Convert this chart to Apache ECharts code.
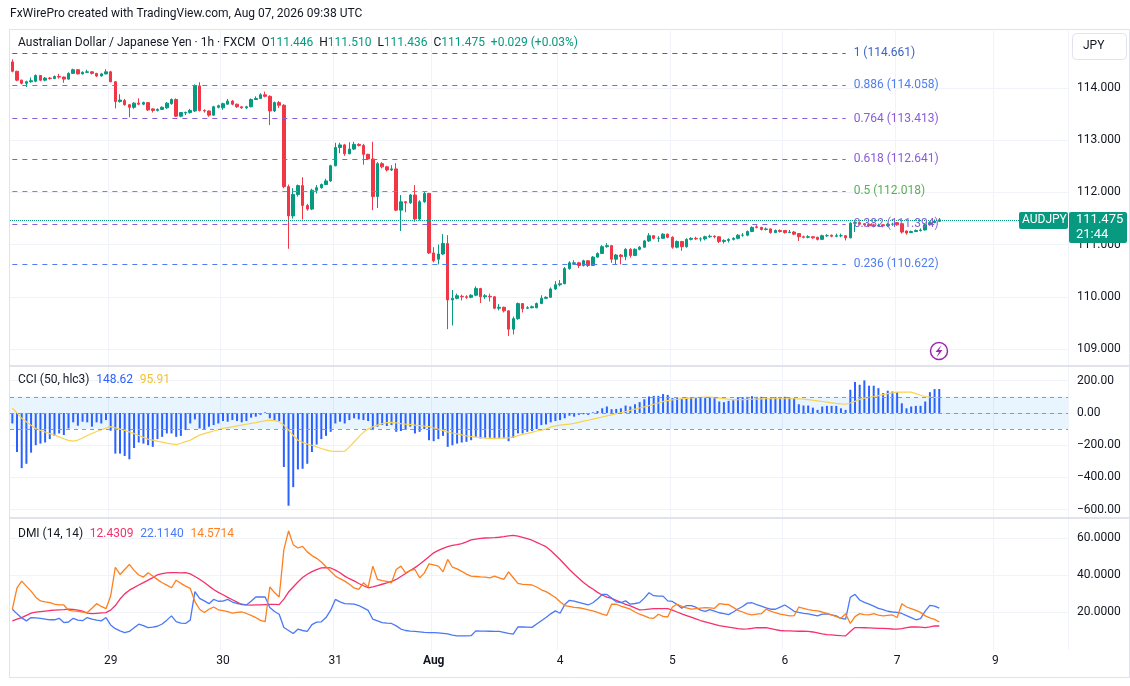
<!DOCTYPE html>
<html>
<head>
<meta charset="utf-8">
<title>AUDJPY 1h</title>
<script src="https://cdn.jsdelivr.net/npm/echarts@6.0.0/dist/echarts.min.js"></script>
<style>
  html, body { margin: 0; padding: 0; background: #fff; }
  #main { width: 1130px; height: 686px; }
</style>
</head>
<body>
<div id="main"></div>
<script>
// hourly candles, [open, close, low, high]
var jul28 = [
  [114.50,114.32,114.30,114.55],[114.32,114.15,114.13,114.33],[114.15,114.09,114.07,114.16],[114.09,114.12,114.02,114.14],
  [114.12,114.14,114.10,114.20],[114.13,114.24,114.11,114.26],[114.24,114.15,114.13,114.25],[114.15,114.19,114.13,114.21],
  [114.19,114.18,114.16,114.21],[114.18,114.22,114.17,114.24],[114.22,114.21,114.18,114.27],[114.21,114.17,114.10,114.22],
  [114.17,114.28,114.16,114.30],[114.28,114.35,114.27,114.37],[114.35,114.27,114.26,114.36],[114.27,114.30,114.26,114.32],
  [114.30,114.31,114.29,114.35],[114.31,114.28,114.26,114.32],[114.28,114.23,114.21,114.29],[114.23,114.27,114.22,114.29],
  [114.27,114.31,114.26,114.36]
];
var jul29 = [
  [114.31,114.12,114.11,114.33],[114.12,113.74,113.61,114.13],[113.74,113.77,113.72,113.88],[113.76,113.68,113.66,113.79],
  [113.68,113.63,113.44,113.69],[113.63,113.71,113.60,113.73],[113.71,113.69,113.67,113.80],[113.69,113.72,113.67,113.74],
  [113.72,113.58,113.56,113.73],[113.60,113.57,113.53,113.61],[113.57,113.59,113.55,113.61],[113.59,113.63,113.58,113.65],
  [113.62,113.71,113.60,113.73],[113.70,113.78,113.68,113.80],[113.78,113.46,113.45,113.80],[113.46,113.53,113.44,113.54],
  [113.52,113.53,113.48,113.55],[113.53,113.57,113.51,113.60],[113.56,114.04,113.54,114.07],[114.04,113.57,113.55,114.11],
  [113.57,113.56,113.53,113.59],[113.56,113.48,113.45,113.57],[113.48,113.64,113.47,113.66],[113.63,113.66,113.61,113.68]
];
var jul30 = [
  [113.62,113.70,113.58,113.72],[113.69,113.75,113.68,113.79],[113.75,113.69,113.67,113.77],[113.69,113.64,113.62,113.70],
  [113.64,113.62,113.60,113.65],[113.62,113.64,113.60,113.66],[113.64,113.78,113.63,113.80],[113.78,113.80,113.77,113.84],
  [113.80,113.87,113.79,113.90],[113.87,113.84,113.82,113.93],[113.84,113.56,113.29,113.86],[113.56,113.72,113.54,113.74],
  [113.72,113.67,113.62,113.75],[113.67,112.11,112.08,113.69],[112.11,111.55,110.92,112.15],[111.55,111.96,111.50,112.08],
  [111.96,112.13,111.92,112.15],[112.13,111.75,111.48,112.29],[111.75,111.68,111.65,111.78],[111.68,112.04,111.66,112.07],
  [112.04,112.09,111.98,112.14],[112.09,112.15,112.07,112.17],[112.15,112.22,112.14,112.26],[112.22,112.51,112.20,112.53]
];
var jul31 = [
  [112.51,112.86,112.50,112.95],[112.86,112.91,112.75,112.95],[112.91,112.74,112.70,112.93],[112.74,112.83,112.73,112.96],
  [112.83,112.92,112.81,112.97],[112.92,112.90,112.88,112.94],[112.90,112.73,112.53,112.93],[112.73,112.64,112.62,112.74],
  [112.64,111.92,111.66,112.97],[111.92,112.55,111.70,112.58],[112.55,112.49,112.46,112.58],[112.49,112.43,112.40,112.51],
  [112.43,112.45,112.41,112.52],[112.45,111.66,111.64,112.56],[111.66,111.82,111.26,111.95],[111.82,111.80,111.62,111.83],
  [111.80,111.95,111.78,111.97],[111.95,111.49,111.44,112.14],[111.49,111.82,111.46,111.85],[111.82,111.98,111.80,112.02],
  [111.98,110.84,110.82,111.99]
];
var aug2 = [
  [110.84,110.69,110.66,110.95],[110.72,110.82,110.62,111.00],[110.82,111.02,110.80,111.20]
];
var aug3 = [
  [111.02,109.94,109.38,111.18],[109.94,109.97,109.45,110.13],[109.97,110.02,109.95,110.06],[110.01,110.00,109.93,110.04],
  [110.00,109.99,109.96,110.03],[109.99,110.03,109.97,110.05],[110.03,110.16,110.01,110.20],[110.16,110.00,109.88,110.17],
  [110.00,110.02,109.96,110.05],[110.01,110.00,109.91,110.06],[110.00,109.78,109.76,110.01],[109.78,109.80,109.74,109.86],
  [109.80,109.73,109.70,109.81],[109.73,109.38,109.25,109.74],[109.38,109.58,109.28,109.62],[109.58,109.87,109.56,109.89],
  [109.87,109.77,109.70,109.88],[109.78,109.79,109.77,109.82],[109.79,109.81,109.78,109.83],[109.79,109.87,109.78,109.89],
  [109.87,109.97,109.86,110.03],[109.97,109.99,109.96,110.01],[109.99,110.15,109.98,110.18],[110.15,110.23,110.13,110.30]
];
var aug4 = [
  [110.23,110.25,110.20,110.32],[110.25,110.54,110.24,110.57],[110.54,110.65,110.52,110.68],[110.64,110.65,110.62,110.70],
  [110.65,110.60,110.55,110.67],[110.60,110.69,110.58,110.71],[110.69,110.60,110.57,110.70],[110.60,110.76,110.59,110.78],
  [110.76,110.83,110.75,110.85],[110.83,110.96,110.82,110.99],[110.96,110.98,110.94,111.03],[110.98,110.72,110.65,110.99],
  [110.72,110.80,110.62,110.82],[110.80,110.77,110.62,110.82],[110.77,110.91,110.70,110.93],[110.91,110.79,110.75,110.93],
  [110.79,110.91,110.78,110.93],[110.91,110.95,110.89,110.97],[110.95,111.07,110.94,111.09],[111.07,111.17,111.05,111.22],
  [111.17,111.12,111.10,111.18],[111.12,111.12,111.05,111.16],[111.12,111.20,111.11,111.22],[111.20,111.14,111.12,111.21]
];
var aug5 = [
  [111.14,110.95,110.92,111.16],[110.95,111.06,110.93,111.08],[111.06,110.96,110.88,111.07],[110.96,111.10,110.94,111.12],
  [111.10,111.12,111.08,111.14],[111.12,111.11,111.09,111.15],[111.11,111.11,111.06,111.14],[111.11,111.15,111.08,111.17],
  [111.15,111.16,111.13,111.19],[111.16,111.15,111.12,111.18],[111.15,111.06,111.03,111.16],[111.06,111.08,111.02,111.10],
  [111.08,111.10,111.04,111.12],[111.10,111.12,111.08,111.14],[111.12,111.18,111.10,111.20],[111.18,111.18,111.15,111.22],
  [111.18,111.25,111.16,111.27],[111.25,111.33,111.24,111.35],[111.34,111.33,111.31,111.37],[111.33,111.29,111.27,111.34],
  [111.29,111.30,111.27,111.33],[111.30,111.23,111.21,111.31],[111.23,111.27,111.22,111.29],[111.27,111.25,111.23,111.29]
];
var aug6 = [
  [111.27,111.23,111.21,111.28],[111.23,111.24,111.22,111.28],[111.24,111.20,111.18,111.26],[111.21,111.15,111.07,111.22],
  [111.15,111.14,111.12,111.17],[111.14,111.15,111.12,111.18],[111.15,111.13,111.11,111.16],[111.14,111.10,111.08,111.15],
  [111.10,111.17,111.09,111.19],[111.17,111.17,111.15,111.20],[111.18,111.16,111.14,111.19],[111.16,111.17,111.14,111.21],
  [111.17,111.17,111.14,111.21],[111.17,111.13,111.08,111.18],[111.13,111.41,111.12,111.43],[111.41,111.42,111.24,111.45],
  [111.42,111.39,111.37,111.43],[111.40,111.38,111.35,111.41],[111.39,111.36,111.34,111.40],[111.38,111.36,111.33,111.40],
  [111.36,111.37,111.34,111.40],[111.38,111.36,111.33,111.39],[111.36,111.39,111.34,111.41],[111.39,111.39,111.36,111.42]
];
var aug7 = [
  [111.42,111.38,111.36,111.43],[111.40,111.24,111.21,111.41],[111.26,111.22,111.19,111.27],[111.23,111.25,111.22,111.27],
  [111.25,111.27,111.24,111.29],[111.27,111.28,111.25,111.31],[111.28,111.38,111.27,111.40],[111.38,111.42,111.36,111.45],
  [111.42,111.45,111.41,111.48],[111.446,111.475,111.436,111.510]
];

// CCI (50, hlc3) and its yellow average
var cciValues = [
  -65,-242,-342,-315,-246,-200,-190,-183,-162,-142,-127,-137,-96,-58,-79,-54,-58,-85,-58,-65,-44,
  -110,-252,-252,-267,-287,-217,-183,-190,-200,-210,-162,-148,-127,-127,-148,-142,-106,-65,-40,-96,-100,-85,-75,-65,
  -50,-54,-44,-50,-58,-50,-29,-23,-12,4,-33,-44,-50,-335,-575,-460,-350,-346,-315,-242,-196,-162,-142,-117,
  -65,-54,-65,-44,-33,-40,-44,-50,-106,-85,-75,-81,-75,-117,-112,-106,-85,-127,-117,-100,-169,
  -175,-162,-142,
  -210,-200,-190,-183,-179,-169,-148,-158,-154,-154,-162,-158,-158,-175,-154,-127,-127,-117,-112,-100,-75,-71,-58,-50,
  -44,-33,-17,-23,-12,-8,-12,4,12,29,40,23,25,29,46,40,54,67,85,102,106,106,117,112,
  92,98,88,96,98,94,94,96,98,92,71,67,75,83,98,98,100,104,100,100,98,92,98,96,
  100,96,92,54,46,46,33,19,40,44,44,44,29,19,144,192,175,202,169,169,154,123,138,133,
  129,60,29,40,44,44,71,129,148,148.62
];
var cciSignal = [
  29,0,-33,-55,-76,-96,-108,-118,-128,-137,-148,-160,-170,-175,-168,-155,-140,-127,-115,-104,-94,
  -85,-92,-100,-108,-117,-128,-140,-151,-162,-168,-175,-181,-187,-192,-196,-188,-178,-169,-153,-137,-128,-120,-112,-104,
  -96,-91,-86,-80,-75,-70,-65,-60,-54,-49,-44,-48,-54,-75,-106,-140,-169,-182,-193,-200,-210,-220,-229,-237,
  -238,-238,-237,-210,-180,-148,-120,-100,-85,-75,-66,-60,-58,-62,-66,-69,-71,-75,-78,-82,-85,
  -93,-101,-109,
  -117,-124,-130,-136,-142,-146,-150,-153,-156,-158,-157,-156,-155,-154,-148,-140,-133,-127,-120,-112,-106,-100,-88,-80,
  -75,-72,-69,-65,-58,-51,-45,-38,-32,-25,-18,-12,-5,2,9,16,24,31,38,46,54,62,70,77,
  81,85,88,91,93,95,97,98,98,95,92,89,85,81,82,83,84,85,86,87,88,88,88,88,
  88,88,88,87,86,83,79,75,71,67,63,59,56,54,62,72,84,92,97,102,108,114,120,125,
  129,129,129,129,120,110,102,98,96,95.91
];

// DMI (14, 14)
var adx = [
  15.2,16.2,17.0,18.2,19.4,19.9,20.2,20.5,20.8,21.0,21.2,21.3,21.5,21.4,21.0,20.5,19.4,19.1,19.3,19.5,19.7,
  21.0,23.5,27.0,29.8,31.8,33.2,34.6,35.9,37.2,38.6,40.1,40.8,41.2,41.3,41.3,41.2,41.3,40.6,39.2,37.7,35.9,34.0,32.2,30.6,
  29.3,27.9,26.6,25.3,24.0,23.8,23.7,23.8,23.9,24.0,24.1,24.1,24.0,27.0,30.8,33.5,36.2,38.6,40.4,41.8,42.9,43.8,44.0,43.8,
  42.6,41.2,39.4,38.0,36.8,35.4,34.2,33.1,33.6,34.3,35.0,35.7,36.5,37.6,39.2,40.8,42.4,44.0,45.8,47.8,49.9,
  52.0,53.3,54.4,
  55.3,56.0,56.4,57.0,57.9,59.0,59.4,59.8,60.0,60.1,60.2,60.4,60.7,61.1,61.4,61.0,60.3,59.6,58.8,57.6,56.5,55.3,53.2,50.8,
  48.4,45.7,43.0,40.5,38.2,36.0,34.0,32.4,30.6,29.2,28.0,27.4,26.3,25.2,24.1,23.3,22.2,21.2,21.3,21.6,21.8,21.8,21.8,21.8,
  21.0,20.0,19.0,18.1,17.2,16.3,15.4,14.7,14.0,13.3,12.6,12.2,11.8,11.4,11.0,10.7,10.9,11.2,11.5,11.6,11.5,11.0,10.5,10.0,
  9.8,9.8,9.7,9.6,9.6,9.5,9.2,8.7,8.2,7.8,7.6,7.4,7.2,7.1,9.5,11.6,11.6,11.5,11.4,11.3,11.2,11.1,11.0,10.8,
  10.7,11.0,11.5,11.9,12.0,11.8,11.6,12.0,12.5,12.4309
];
var plusDI = [
  21.5,19.0,16.8,15.2,17.0,16.8,16.6,16.2,15.8,15.8,16.6,14.3,14.6,16.6,15.6,15.3,17.0,16.2,15.6,15.2,17.0,
  13.0,11.0,9.8,8.8,9.5,11.5,13.4,12.6,11.6,11.8,12.3,13.5,15.6,17.9,14.8,14.0,13.8,15.6,31.0,27.4,26.0,24.5,26.8,25.8,
  25.9,26.8,25.4,24.6,24.2,23.8,25.8,28.1,28.1,28.1,22.4,20.3,18.8,11.6,10.0,8.4,10.7,10.0,9.5,13.2,14.5,14.7,17.0,21.0,
  26.8,25.5,24.5,24.4,24.3,23.5,22.2,20.9,16.1,15.2,14.3,14.0,13.8,12.5,10.8,10.0,9.7,9.5,9.3,9.0,8.9,
  8.8,8.7,8.5,
  8.2,7.5,7.1,7.1,7.1,7.2,9.8,9.7,9.7,9.6,9.5,9.5,9.0,8.4,8.0,12.0,11.9,11.8,11.7,13.5,15.3,17.0,19.0,20.6,
  19.3,24.0,26.3,25.9,25.2,24.5,23.8,25.0,27.0,29.5,29.5,27.5,25.5,25.1,26.0,24.2,24.6,25.1,27.5,30.4,28.8,28.6,28.6,26.0,
  25.7,24.0,22.0,23.5,23.5,22.6,21.0,20.3,21.3,20.5,19.6,19.1,18.6,20.0,21.6,23.0,24.8,25.0,24.0,23.2,22.2,21.5,21.5,22.6,
  23.8,22.2,20.4,19.8,19.3,19.0,18.5,17.9,18.8,19.0,18.4,17.9,16.5,16.1,28.0,29.5,26.5,25.2,24.3,23.2,22.0,21.3,20.4,20.0,
  19.8,19.2,18.0,17.0,15.8,16.4,20.5,23.6,23.2,22.114
];
var minusDI = [
  21.5,33.0,36.7,34.0,31.3,28.0,26.0,25.5,25.1,24.3,23.8,23.8,21.0,20.6,20.3,20.0,19.7,22.0,24.5,23.0,21.8,
  28.6,44.2,40.3,43.0,45.7,42.5,40.0,38.9,41.2,39.5,37.5,35.8,34.5,33.1,37.2,35.5,34.0,32.8,25.6,21.5,19.7,21.5,22.7,21.2,
  20.8,20.2,19.4,19.8,20.0,19.2,18.2,17.0,15.5,14.8,33.5,30.5,28.1,53.7,63.9,56.4,54.6,55.5,52.5,50.5,49.0,47.0,44.5,42.0,
  39.4,38.0,36.7,35.0,33.0,32.2,35.8,33.5,44.8,37.6,37.0,36.5,35.8,43.0,44.8,41.2,42.5,43.0,38.5,41.0,46.0,
  45.5,44.8,41.7,
  48.4,44.2,43.3,42.0,40.5,39.4,39.2,39.0,38.9,38.5,39.4,38.5,37.6,41.7,38.5,35.5,34.9,34.8,34.6,33.5,32.0,31.0,29.5,27.8,
  25.6,23.5,23.0,22.5,22.3,21.8,21.2,20.6,19.8,18.8,18.2,24.2,24.2,23.2,22.4,21.5,20.0,18.8,17.9,16.8,16.6,18.8,17.6,17.3,
  22.7,24.2,23.0,22.2,21.5,21.8,22.1,22.4,22.2,22.0,24.5,24.2,24.0,22.5,20.9,20.0,19.0,18.4,18.8,19.1,21.5,20.5,19.6,18.8,
  18.5,17.9,18.0,22.7,22.0,21.3,20.9,20.6,20.0,19.2,18.4,17.5,16.6,19.1,13.8,17.5,19.1,18.6,18.4,19.1,18.3,17.9,18.2,18.4,
  17.0,24.5,22.7,21.8,20.9,19.8,17.9,16.8,16.0,14.571
];

// time axis: bar slot index of each day label
var dayTickIndex = [21, 45, 69, 90, 117, 141, 165, 189, 210];
var dayTickText = ['29', '30', '31', 'Aug', '4', '5', '6', '7', '9'];
var priceTicks = [109, 110, 111, 112, 113, 114];
var cciTicks = [-600, -400, -200, 0, 200];
var dmiTicks = [20, 40, 60];
var fibRatio = ['1', '0.886', '0.764', '0.618', '0.5', '0.382', '0.236'];
var fibPrice = [114.661, 114.058, 113.413, 112.641, 112.018, 111.394, 110.622];
var lastPrice = 111.475;

window.onload = function () {
  'use strict';

  var FONT = 'Roboto, "Noto Sans", sans-serif';
  var UP = '#089981', DOWN = '#F23645';
  var fibColor = ['#3B62C4', '#4F7DF0', '#8A5CD6', '#8A5CD6', '#5AAF55', '#8A5CD6', '#4F7DF0'];

  var candles = jul28.concat(jul29, jul30, jul31, aug2, aug3, aug4, aug5, aug6, aug7);
  var slotCount = 226; // bars plus empty space on the right
  var slots = [];
  for (var i = 0; i < slotCount; i++) slots.push(String(i));

  var tickText = {};
  dayTickIndex.forEach(function (k, j) { tickText[k] = dayTickText[j]; });
  function isDay(idx) { return tickText[idx] !== undefined; }

  function makeX(gi, withLabels) {
    return {
      type: 'category', gridIndex: gi, data: slots, boundaryGap: true,
      axisLine: { show: false }, axisTick: { show: false },
      axisLabel: {
        show: withLabels, interval: function (idx) { return isDay(idx); },
        formatter: function (v, idx) {
          var t = tickText[idx];
          if (t === undefined) return '';
          return t === 'Aug' ? '{b|Aug}' : t;
        },
        color: '#131722', fontSize: 12, fontFamily: FONT, margin: 5,
        rich: { b: { fontWeight: 'bold', fontSize: 12, color: '#131722', fontFamily: FONT } }
      },
      splitLine: { show: true, interval: function (idx) { return isDay(idx); }, lineStyle: { color: '#F0F3FA' } }
    };
  }

  function makeY(gi, min, max, ticks, fmt) {
    return {
      type: 'value', gridIndex: gi, position: 'right', min: min, max: max,
      axisLine: { show: false },
      axisTick: { show: false, customValues: ticks },
      axisLabel: { customValues: ticks, formatter: fmt, color: '#131722', fontSize: 12, fontFamily: FONT, margin: 9 },
      splitLine: { show: true, lineStyle: { color: '#F0F3FA' } }
    };
  }

  function minus(s) { return s.replace('-', '\u2212'); }

  var fibLines = fibPrice.map(function (p, k) {
    return [
      {
        coord: [0, p],
        lineStyle: { color: fibColor[k], type: [5, 5], width: 1 },
        label: {
          show: true, position: 'end', distance: 8,
          formatter: fibRatio[k] + ' (' + p.toFixed(3) + ')',
          color: fibColor[k], fontSize: 12, fontFamily: FONT
        }
      },
      { coord: [178, p] }
    ];
  });
  fibLines.push({ yAxis: lastPrice, lineStyle: { color: UP, type: 'dotted', width: 1 }, label: { show: false } });

  var option = {
    animation: false,
    backgroundColor: '#ffffff',
    grid: [
      { left: 10, right: 62, top: 31, height: 334 },
      { left: 10, right: 62, top: 367, height: 150 },
      { left: 10, right: 62, top: 519, height: 131 }
    ],
    xAxis: [makeX(0, false), makeX(1, false), makeX(2, true)],
    yAxis: [
      makeY(0, 108.693, 115.092, priceTicks, function (v) { return v.toFixed(3); }),
      makeY(1, -645, 285, cciTicks, function (v) { return minus(v.toFixed(2)); }),
      makeY(2, -0.54, 70.27, dmiTicks, function (v) { return v.toFixed(4); })
    ],
    series: [
      {
        type: 'candlestick', xAxisIndex: 0, yAxisIndex: 0, data: candles, barWidth: 3,
        itemStyle: { color: UP, color0: DOWN, borderColor: UP, borderColor0: DOWN, borderWidth: 1 },
        markLine: { silent: true, symbol: ['none', 'none'], animation: false, data: fibLines }
      },
      {
        type: 'bar', xAxisIndex: 1, yAxisIndex: 1, data: cciValues, barWidth: 2,
        itemStyle: { color: '#2962FF' },
        markArea: {
          silent: true,
          itemStyle: { color: 'rgba(33,150,243,0.1)' },
          data: [[{ yAxis: 100 }, { yAxis: -100 }]]
        },
        markLine: {
          silent: true, symbol: ['none', 'none'], animation: false,
          label: { show: false },
          lineStyle: { color: '#9598A1', type: [4, 4], width: 1 },
          data: [{ yAxis: 100 }, { yAxis: 0 }, { yAxis: -100 }]
        }
      },
      {
        type: 'line', xAxisIndex: 1, yAxisIndex: 1, data: cciSignal, showSymbol: false,
        lineStyle: { color: '#F9D34F', width: 1.2 }
      },
      {
        type: 'line', xAxisIndex: 2, yAxisIndex: 2, data: adx, showSymbol: false,
        lineStyle: { color: '#F5306A', width: 1.3 }
      },
      {
        type: 'line', xAxisIndex: 2, yAxisIndex: 2, data: plusDI, showSymbol: false,
        lineStyle: { color: '#4A78F6', width: 1.3 }
      },
      {
        type: 'line', xAxisIndex: 2, yAxisIndex: 2, data: minusDI, showSymbol: false,
        lineStyle: { color: '#FF7F1E', width: 1.3 }
      }
    ],
    graphic: [
      {
        type: 'text', left: 10, top: 8, z: 100,
        style: { text: 'FxWirePro created with TradingView.com, Aug 07, 2026 09:38 UTC', fill: '#131722', font: '12px ' + FONT }
      },
      {
        type: 'rect', silent: true, z: -1,
        shape: { x: 9.5, y: 29.5, width: 1120, height: 648 },
        style: { fill: 'none', stroke: '#E0E3EB', lineWidth: 1 }
      },
      { type: 'line', silent: true, shape: { x1: 10, y1: 366, x2: 1130, y2: 366 }, style: { stroke: '#E0E3EB', lineWidth: 2 } },
      { type: 'line', silent: true, shape: { x1: 10, y1: 518, x2: 1130, y2: 518 }, style: { stroke: '#E0E3EB', lineWidth: 2 } },
      {
        type: 'text', left: 18, top: 37, z: 100,
        style: {
          text: '{t|Australian Dollar / Japanese Yen · 1h · FXCM}  {t|O}{v|111.446}  {t|H}{v|111.510}  {t|L}{v|111.436}  {t|C}{v|111.475}  {v|+0.029 (+0.03%)}',
          font: '12px ' + FONT,
          rich: {
            t: { fill: '#131722', font: '12px ' + FONT },
            v: { fill: UP, font: '12px ' + FONT }
          }
        }
      },
      {
        type: 'text', left: 18, top: 374, z: 100,
        style: {
          text: '{t|CCI (50, hlc3)}  {b|148.62}  {y|95.91}',
          rich: {
            t: { fill: '#131722', font: '12px ' + FONT },
            b: { fill: '#2962FF', font: '12px ' + FONT },
            y: { fill: '#F2C230', font: '12px ' + FONT }
          }
        }
      },
      {
        type: 'text', left: 18, top: 528, z: 100,
        style: {
          text: '{t|DMI (14, 14)}  {r|12.4309}  {b|22.1140}  {o|14.5714}',
          rich: {
            t: { fill: '#131722', font: '12px ' + FONT },
            r: { fill: '#F5306A', font: '12px ' + FONT },
            b: { fill: '#4A78F6', font: '12px ' + FONT },
            o: { fill: '#FF7F1E', font: '12px ' + FONT }
          }
        }
      },
      {
        type: 'rect', z: 100, shape: { x: 1072.5, y: 33.5, width: 54, height: 26, r: 4 },
        style: { fill: '#ffffff', stroke: '#E0E3EB', lineWidth: 1 }
      },
      { type: 'text', z: 101, left: 1083, top: 40, style: { text: 'JPY', fill: '#131722', font: '12px ' + FONT } },
      {
        type: 'rect', z: 100, shape: { x: 1019, y: 212, width: 49, height: 17, r: 2 },
        style: { fill: UP }
      },
      { type: 'text', z: 101, left: 1022, top: 214, style: { text: 'AUDJPY', fill: '#ffffff', font: '12px ' + FONT } },
      {
        type: 'rect', z: 100, shape: { x: 1069, y: 212, width: 58, height: 31, r: 2 },
        style: { fill: UP }
      },
      { type: 'text', z: 101, left: 1076, top: 213, style: { text: '111.475', fill: '#ffffff', font: '13px ' + FONT } },
      { type: 'text', z: 101, left: 1076, top: 228, style: { text: '21:44', fill: '#ffffff', font: '13px ' + FONT } },
      {
        type: 'circle', z: 100, shape: { cx: 939, cy: 351, r: 8.5 },
        style: { fill: '#ffffff', stroke: '#9C27B0', lineWidth: 1.5 }
      },
      {
        type: 'polygon', z: 101,
        shape: { points: [[941.5, 345], [935.5, 352], [939, 352], [936.5, 357.5], [942.5, 350], [939, 350]] },
        style: { fill: '#9C27B0' }
      }
    ]
  };

  var chart = echarts.init(document.getElementById('main'));
  chart.setOption(option);
};
</script>
</body>
</html>
